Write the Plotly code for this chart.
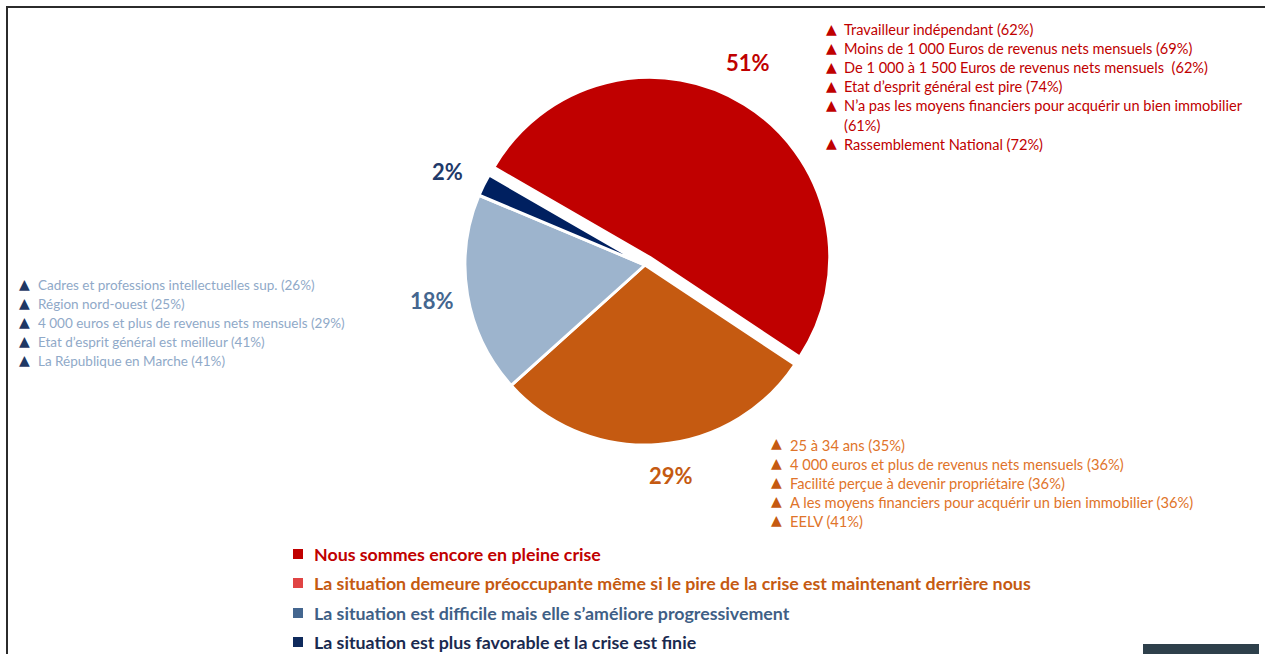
import plotly.graph_objects as go

W, H = 1265, 654

# ---- data ----
categories = [
    "Nous sommes encore en pleine crise",
    "La situation demeure préoccupante même si le pire de la crise est maintenant derrière nous",
    "La situation est difficile mais elle s’améliore progressivement",
    "La situation est plus favorable et la crise est finie",
]
values = [51, 29, 18, 2]
value_labels = ["51%", "29%", "18%", "2%"]
slice_colors = ["#C00000", "#C55A11", "#9DB4CD", "#002060"]
pct_label_colors = ["#C00000", "#C55A11", "#44668F", "#1F3A6A"]
legend_square_colors = ["#C00000", "#E04444", "#44668F", "#0F2A5C"]
legend_text_colors = ["#C00000", "#C55A11", "#3F5F86", "#1A2A50"]
pulls = [0.05, 0, 0, 0]

red_notes = [
    "Travailleur indépendant (62%)",
    "Moins de 1 000 Euros de revenus nets mensuels (69%)",
    "De 1 000 à 1 500 Euros de revenus nets mensuels  (62%)",
    "Etat d’esprit général est pire (74%)",
    "N’a pas les moyens financiers pour acquérir un bien immobilier",
    "(61%)",
    "Rassemblement National (72%)",
]
red_has_triangle = [True, True, True, True, True, False, True]

blue_notes = [
    "Cadres et professions intellectuelles sup. (26%)",
    "Région nord-ouest (25%)",
    "4 000 euros et plus de revenus nets mensuels (29%)",
    "Etat d’esprit général est meilleur (41%)",
    "La République en Marche (41%)",
]

orange_notes = [
    "25 à 34 ans (35%)",
    "4 000 euros et plus de revenus nets mensuels (36%)",
    "Facilité perçue à devenir propriétaire (36%)",
    "A les moyens financiers pour acquérir un bien immobilier (36%)",
    "EELV (41%)",
]


def px(x):
    return x / W


def py(y):
    return 1 - y / H


FONT = "Lato"

# pie geometry (pixels)
cx, cy, r = 645, 265, 180
half = r * (1 + max(pulls))

fig = go.Figure()
fig.add_trace(go.Pie(
    labels=categories,
    values=values,
    sort=False,
    direction="clockwise",
    rotation=300,
    pull=pulls,
    marker=dict(colors=slice_colors, line=dict(color="white", width=3)),
    textinfo="none",
    hoverinfo="label+percent",
    showlegend=False,
    domain=dict(x=[px(cx - half), px(cx + half)], y=[py(cy + half), py(cy - half)]),
))

ann = []
shapes = []

# percentage labels
pct_pos = [(748, 62), (671, 475), (432, 300), (447, 171)]
for lab, col, (x, y) in zip(value_labels, pct_label_colors, pct_pos):
    ann.append(dict(x=px(x), y=py(y), xref="paper", yref="paper", text=f"<b>{lab}</b>",
                    showarrow=False, xanchor="center", yanchor="middle",
                    font=dict(family=FONT, size=22, color=col)))

LINE = 19.1


def add_block(notes, tri_flags, x_tri, x_text, y0, tri_col, text_col, size):
    for i, (t, f) in enumerate(zip(notes, tri_flags)):
        y = y0 + i * LINE
        if f:
            ann.append(dict(x=px(x_tri), y=py(y - 1), xref="paper", yref="paper", text="▲",
                            showarrow=False, xanchor="center", yanchor="middle",
                            font=dict(family="DejaVu Sans", size=14, color=tri_col)))
        ann.append(dict(x=px(x_text), y=py(y), xref="paper", yref="paper", text=t,
                        showarrow=False, xanchor="left", yanchor="middle",
                        font=dict(family=FONT, size=size, color=text_col)))


add_block(red_notes, red_has_triangle, 831, 842, 29.5, "#C00000", "#C00000", 14.6)
add_block(blue_notes, [True] * len(blue_notes), 24, 36, 284.5, "#1F3864", "#8FA9C8", 13.5)
add_block(orange_notes, [True] * len(orange_notes), 776, 788, 444.5, "#C55A11", "#E0742A", 14.7)

# legend (custom)
leg_y = [554, 583, 613, 642]
for lab, sq, tc, y in zip(categories, legend_square_colors, legend_text_colors, leg_y):
    shapes.append(dict(type="rect", xref="paper", yref="paper",
                       x0=px(293), x1=px(303), y0=py(y + 5), y1=py(y - 5),
                       fillcolor=sq, line=dict(width=0)))
    ann.append(dict(x=px(312), y=py(y), xref="paper", yref="paper", text=f"<b>{lab}</b>",
                    showarrow=False, xanchor="left", yanchor="middle",
                    font=dict(family=FONT, size=17.8, color=tc)))

# frame lines
shapes.append(dict(type="line", xref="paper", yref="paper", x0=px(6), x1=1, y0=py(7), y1=py(7),
                   line=dict(color="#2b2b2b", width=2)))
shapes.append(dict(type="line", xref="paper", yref="paper", x0=px(7), x1=px(7), y0=py(7), y1=0,
                   line=dict(color="#2b2b2b", width=2)))
# dark box bottom-right
shapes.append(dict(type="rect", xref="paper", yref="paper", x0=px(1143), x1=px(1259),
                   y0=0, y1=py(644), fillcolor="#2E404B", line=dict(width=0)))

fig.update_layout(
    width=W, height=H,
    margin=dict(l=0, r=0, t=0, b=0),
    paper_bgcolor="white", plot_bgcolor="white",
    annotations=ann, shapes=shapes,
    showlegend=False,
)

fig.write_html(
    "out.html",
    config={"displayModeBar": False},
    post_script="document.body.style.margin='0';document.body.style.overflow='hidden';",
)
